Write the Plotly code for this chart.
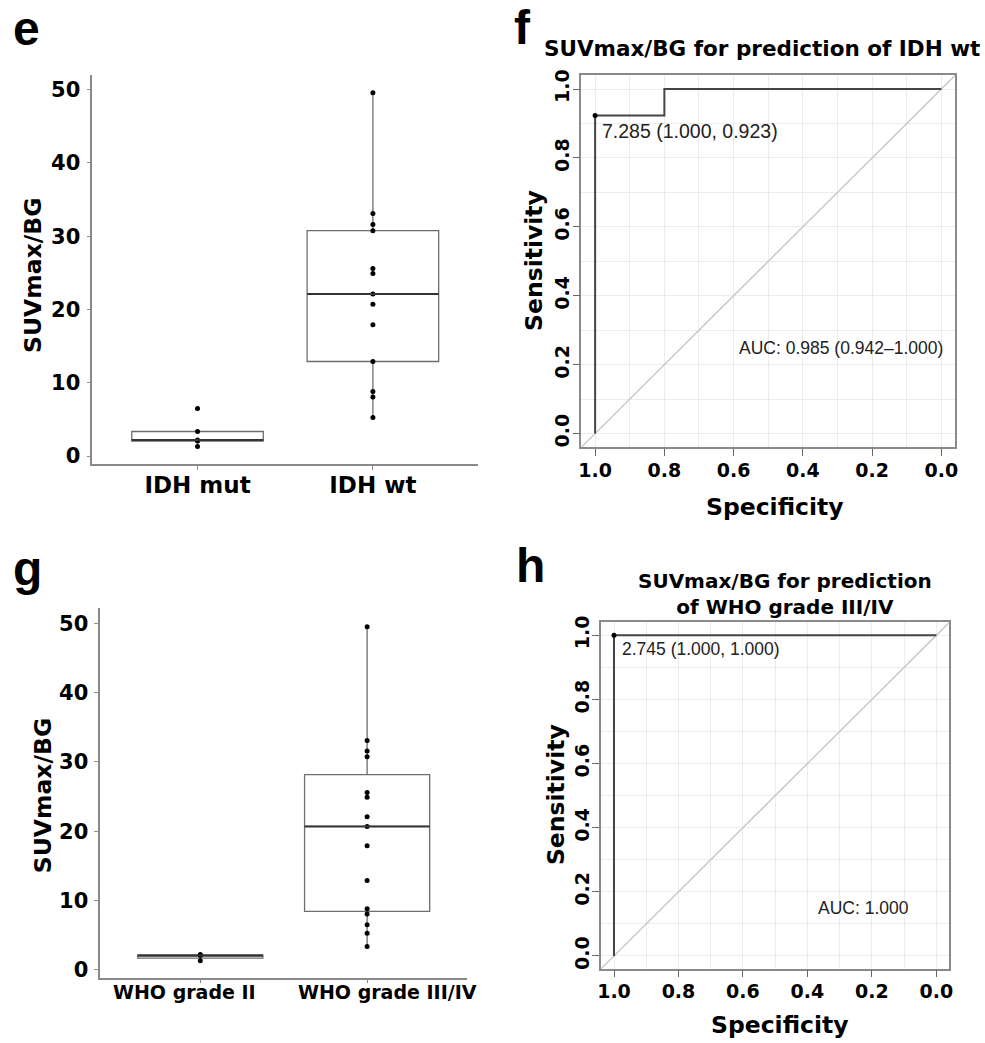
import numpy as np
import plotly.graph_objects as go

W, H = 985, 1043

# ---------------- data ----------------
idh_categories = ["IDH mut", "IDH wt"]
idh_mut = [1.3, 2.05, 2.2, 3.35, 6.5]
idh_wt = [5.26, 8.05, 8.8, 12.9, 17.9, 20.7, 22.1, 24.9, 25.6, 30.75, 31.6, 33.1, 49.55]

who_categories = ["WHO grade II", "WHO grade III/IV"]
who_ii = [1.3, 2.05, 2.2]
who_iii_iv = [3.35, 5.26, 6.5, 8.05, 8.8, 12.9, 17.9, 20.7, 22.1, 24.9, 25.6,
              30.75, 31.6, 33.1, 49.55]

box_ticks = [0, 10, 20, 30, 40, 50]

roc_idh_spec = [1.0, 1.0, 0.8, 0.8, 0.0]
roc_idh_sens = [0.0, 0.923, 0.923, 1.0, 1.0]
roc_idh_thr = [1.0, 0.923]
roc_idh_thr_label = "7.285 (1.000, 0.923)"
roc_idh_auc_label = "AUC: 0.985 (0.942\u20131.000)"
roc_idh_title = "SUVmax/BG for prediction of IDH wt"

roc_who_spec = [1.0, 1.0, 0.0]
roc_who_sens = [0.0, 1.0, 1.0]
roc_who_thr = [1.0, 1.0]
roc_who_thr_label = "2.745 (1.000, 1.000)"
roc_who_auc_label = "AUC: 1.000"
roc_who_title = "SUVmax/BG for prediction<br>of WHO grade III/IV"

roc_ticks = [0.0, 0.2, 0.4, 0.6, 0.8, 1.0]
roc_minor = [0.1, 0.3, 0.5, 0.7, 0.9]

# ---------------- style ----------------
BOLD = dict(family="DejaVu Sans", weight="bold", color="black")
LETTER = dict(family="Liberation Sans", weight="bold", color="black")
ARIAL = dict(family="Liberation Sans", color="#222222")
AXIS_GREY = "#8a8a8a"
BOX_LINE = "#6e6e6e"
ROC_RANGE = [1.04, -0.04]
BOX_W = 0.75


def dx(l, r):
    return [l / W, r / W]


def dy(t, b):
    return [1 - b / H, 1 - t / H]


fig = go.Figure()


def add_box_panel(groups, xa, ya):
    for i, vals in enumerate(groups):
        fig.add_trace(go.Box(
            y=vals, x0=i, width=BOX_W, boxpoints="all", jitter=0, pointpos=0,
            fillcolor="white", line=dict(color=BOX_LINE, width=1.3),
            marker=dict(color="black", size=5), whiskerwidth=0,
            quartilemethod="inclusive", xaxis=xa, yaxis=ya,
            showlegend=False, hoverinfo="skip"))
        med = float(np.median(vals))
        fig.add_trace(go.Scatter(
            x=[i - BOX_W / 2, i + BOX_W / 2], y=[med, med], mode="lines",
            line=dict(color="#333333", width=2), xaxis=xa, yaxis=ya,
            showlegend=False, hoverinfo="skip"))


add_box_panel([idh_mut, idh_wt], "x", "y")
add_box_panel([who_ii, who_iii_iv], "x3", "y3")


def add_roc_panel(spec, sens, thr, xa, ya):
    fig.add_trace(go.Scatter(
        x=[ROC_RANGE[0], ROC_RANGE[1]], y=[1 - ROC_RANGE[0], 1 - ROC_RANGE[1]],
        mode="lines", line=dict(color="#c4c4c4", width=1.3),
        xaxis=xa, yaxis=ya, showlegend=False, hoverinfo="skip"))
    fig.add_trace(go.Scatter(
        x=spec, y=sens, mode="lines", line=dict(color="#444444", width=2),
        xaxis=xa, yaxis=ya, showlegend=False, hoverinfo="skip"))
    fig.add_trace(go.Scatter(
        x=[thr[0]], y=[thr[1]], mode="markers",
        marker=dict(color="black", size=5), xaxis=xa, yaxis=ya,
        showlegend=False, hoverinfo="skip"))


add_roc_panel(roc_idh_spec, roc_idh_sens, roc_idh_thr, "x2", "y2")
add_roc_panel(roc_who_spec, roc_who_sens, roc_who_thr, "x4", "y4")

box_x = dict(range=[-0.6, 1.6], tickmode="array", tickvals=[0, 1],
             showline=True, linecolor=AXIS_GREY, linewidth=1.5,
             ticks="outside", ticklen=4, tickcolor=AXIS_GREY,
             showgrid=False, zeroline=False, ticklabelstandoff=-4)
box_y = dict(tickmode="array", tickvals=box_ticks,
             ticktext=[str(t) for t in box_ticks],
             showline=True, linecolor=AXIS_GREY, linewidth=1.5,
             ticks="outside", ticklen=4, tickcolor=AXIS_GREY,
             showgrid=False, zeroline=False, tickfont=dict(BOLD, size=21),
             ticklabelstandoff=2)

roc_x = dict(range=ROC_RANGE, tickmode="array", tickvals=roc_ticks,
             ticktext=[f"{t:.1f}" for t in roc_ticks],
             showline=True, mirror=True, linecolor=AXIS_GREY, linewidth=1.5,
             ticks="outside", ticklen=7, tickcolor="#666666",
             showgrid=True, gridcolor="#ececec", gridwidth=1,
             minor=dict(tickmode="array", tickvals=roc_minor, showgrid=True,
                        gridcolor="#ececec", ticks=""),
             zeroline=False, tickfont=dict(BOLD, size=19),
             ticklabelstandoff=-2)
roc_y = dict(roc_x, range=[-0.04, 1.04], tickangle=-90, ticklabelstandoff=-4)

fig.update_layout(
    width=W, height=H, margin=dict(l=0, r=0, t=0, b=0),
    paper_bgcolor="white", plot_bgcolor="white", showlegend=False,
    xaxis=dict(box_x, domain=dx(89, 478), anchor="y",
               ticktext=idh_categories, tickfont=dict(BOLD, size=23)),
    yaxis=dict(box_y, domain=dy(69, 462), anchor="x", range=[-1.1, 51.95]),
    xaxis3=dict(box_x, domain=dx(97, 467), anchor="y3",
                ticktext=["", ""], showticklabels=False),
    yaxis3=dict(box_y, domain=dy(607, 981), anchor="x3", range=[-1.15, 52.3]),
    xaxis2=dict(roc_x, domain=dx(582, 959), anchor="y2"),
    yaxis2=dict(roc_y, domain=dy(69, 445), anchor="x2"),
    xaxis4=dict(roc_x, domain=dx(602, 953), anchor="y4"),
    yaxis4=dict(roc_y, domain=dy(622, 972), anchor="x4"),
)

ann = []


def pann(text, x, y, size, angle=0, font=BOLD, xanchor="center"):
    ann.append(dict(text=text, x=x / W, y=1 - y / H, xref="paper", yref="paper",
                    showarrow=False, textangle=angle, xanchor=xanchor,
                    yanchor="middle", font=dict(font, size=size)))


# panel letters
pann("e", 7, 22, 48, font=LETTER, xanchor="left")
pann("f", 512, 21, 48, font=LETTER, xanchor="left")
pann("g", 7, 567, 48, font=LETTER, xanchor="left")
pann("h", 514, 564, 48, font=LETTER, xanchor="left")

# axis titles
pann("SUVmax/BG", 29, 271, 23.5, angle=-90)
pann("SUVmax/BG", 39, 797, 23.5, angle=-90)
pann("Sensitivity", 535, 256, 23.5, angle=-90)
pann("Specificity", 777, 505, 23.5)
pann("Sensitivity", 556, 796, 23.5, angle=-90)
pann("Specificity", 782, 1029, 23.5)

# category labels of panel g (placed as in the reference)
pann(who_categories[0], 182, 995, 19)
pann(who_categories[1], 294, 995, 19, xanchor="left")

# ROC titles
pann(roc_idh_title, 764, 42, 21.5)
pann(roc_who_title, 787, 593, 20)

# ROC text annotations (data coords)
ann.append(dict(text=roc_idh_thr_label, x=0.9856, y=0.879, xref="x2", yref="y2",
                showarrow=False, xanchor="left", yanchor="middle",
                font=dict(ARIAL, size=19.5)))
ann.append(dict(text=roc_idh_auc_label, x=0.291, y=0.247, xref="x2", yref="y2",
                showarrow=False, xanchor="center", yanchor="middle",
                font=dict(ARIAL, size=17.5)))
ann.append(dict(text=roc_who_thr_label, x=0.9825, y=0.957, xref="x4", yref="y4",
                showarrow=False, xanchor="left", yanchor="middle",
                font=dict(ARIAL, size=17.5)))
ann.append(dict(text=roc_who_auc_label, x=0.227, y=0.151, xref="x4", yref="y4",
                showarrow=False, xanchor="center", yanchor="middle",
                font=dict(ARIAL, size=17.5)))

fig.update_layout(annotations=ann)

fig.write_html("out.html",
               config={"displayModeBar": False},
               post_script="document.body.style.margin='0';"
                           "document.body.style.overflow='hidden';")
